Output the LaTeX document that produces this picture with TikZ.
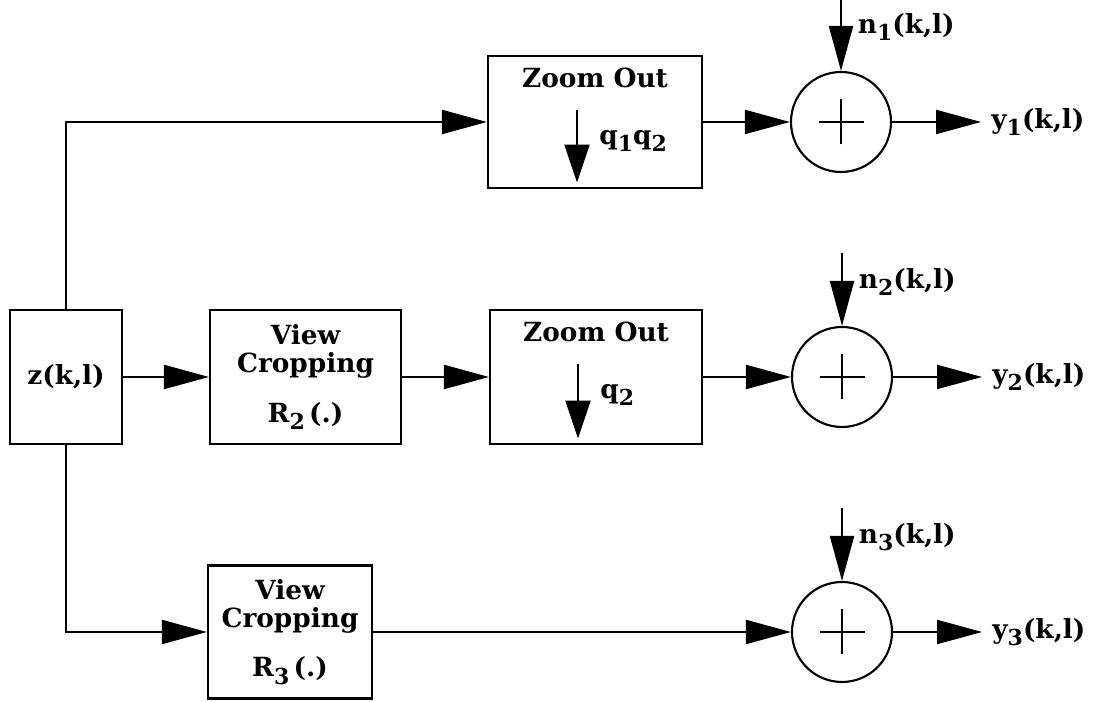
\documentclass[tikz,border=0pt]{standalone}
\usepackage{fontspec}
\setmainfont{DejaVu Serif}
\usetikzlibrary{arrows.meta,positioning}

\newcommand{\lo}[1]{\raisebox{-4pt}{\fontsize{12.5}{12.5}\selectfont #1}}

\tikzset{
  blk/.style={draw,line width=1.2pt,inner sep=0pt},
  adder/.style={draw,circle,line width=1.2pt,minimum size=2cm,inner sep=0pt},
  sig/.style={-{Triangle[length=0.9cm,width=0.48cm]},line width=1.2pt},
  dwn/.style={-{Triangle[length=0.76cm,width=0.5cm]},line width=1.2pt},
  txt/.style={font=\fontsize{15}{16}\selectfont\bfseries,inner sep=0pt}
}

\begin{document}
\begin{tikzpicture}
\useasboundingbox (0,0) rectangle (22.02,14.04);

% blocks
\node[blk,txt,minimum width=2.24cm,minimum height=2.68cm] (z) at (1.32,6.5) {z(k,l)};
\node[blk,txt,align=center,minimum width=3.82cm,minimum height=2.68cm] (crop2) at (6.11,6.5) {View\\Cropping\\[12pt]R\lo{2}\,(.)};
\node[blk,txt,align=center,minimum width=3.28cm,minimum height=2.66cm] (crop3) at (5.8,1.4) {View\\Cropping\\[12pt]R\lo{3}\,(.)};
\node[blk,minimum width=4.28cm,minimum height=2.64cm] (zoom1) at (11.9,11.6) {};
\node[blk,minimum width=4.24cm,minimum height=2.68cm] (zoom2) at (11.92,6.5) {};

% adders
\node[adder] (add1) at (16.82,11.6) {};
\node[adder] (add2) at (16.84,6.5) {};
\node[adder] (add3) at (16.84,1.4) {};

% zoom out contents
\foreach \b/\f in {zoom1/{q\lo{1}q\lo{2}}, zoom2/{q\lo{2}}} {
  \node[txt] (\b t) at ([yshift=-0.45cm]\b.north) {Zoom Out};
  \coordinate (\b a) at ([xshift=-0.36cm,yshift=-1.1cm]\b.north);
  \coordinate (\b b) at ([xshift=-0.36cm,yshift=0.13cm]\b.south);
  \draw[dwn] (\b a) -- (\b b);
  \node[txt,anchor=base west] (\b q) at ([xshift=0.44cm,yshift=-0.7cm]\b a) {\f};
}

% adder contents, noise and outputs
\foreach \i in {1,2,3} {
  \draw[line width=0.8pt] ([xshift=-0.45cm]add\i.center) -- ([xshift=0.45cm]add\i.center);
  \draw[line width=0.8pt] ([yshift=-0.45cm]add\i.center) -- ([yshift=0.45cm]add\i.center);
  \coordinate (n\i) at ([yshift=1.45cm]add\i.north);
  \draw[sig] (n\i) -- (add\i.north);
  \node[txt,anchor=base west] (nl\i) at ([xshift=0.33cm,yshift=-0.7cm]n\i) {n\lo{\i}(k,l)};
  \node[txt,anchor=west] (y\i) at ([xshift=1.98cm]add\i.east) {y\lo{\i}(k,l)};
  \draw[sig,shorten >=0.2cm] (add\i.east) -- (y\i.west);
}

% signal paths
\draw[sig] (z.north) |- (zoom1.west);
\draw[sig] (z.south) |- (crop3.west);
\draw[sig] (z) -- (crop2);
\draw[sig] (crop2) -- (zoom2);
\draw[sig] (zoom2) -- (add2);
\draw[sig] (zoom1) -- (add1);
\draw[sig] (crop3) -- (add3);
\end{tikzpicture}
\end{document}
